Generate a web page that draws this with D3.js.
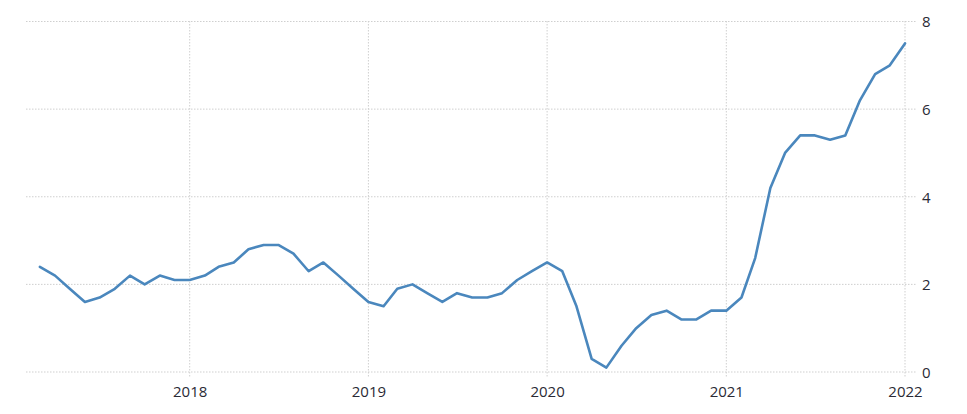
<!DOCTYPE html>
<html><head><meta charset="utf-8">
<script src="https://cdn.jsdelivr.net/npm/d3@7"></script>
<style>
html,body{margin:0;padding:0;background:#fff;}
svg text{font-family:"Open Sans","DejaVu Sans",sans-serif;}
</style></head>
<body><svg id="c" width="967" height="414"></svg>
<script>
const startMonth = "2017-03";
const values = [2.4,2.2,1.9,1.6,1.7,1.9,2.2,2.0,2.2,2.1,
  2.1,2.2,2.4,2.5,2.8,2.9,2.9,2.7,2.3,2.5,2.2,1.9,
  1.6,1.5,1.9,2.0,1.8,1.6,1.8,1.7,1.7,1.8,2.1,2.3,
  2.5,2.3,1.5,0.3,0.1,0.6,1.0,1.3,1.4,1.2,1.2,1.4,
  1.4,1.7,2.6,4.2,5.0,5.4,5.4,5.3,5.4,6.2,6.8,7.0,
  7.5];
const yTicks = [0,2,4,6,8];
const xTickYears = [2018,2019,2020,2021,2022];

const parse = d3.timeParse("%Y-%m");
const t0 = parse(startMonth);
const data = values.map((v,i)=>({date:d3.timeMonth.offset(t0,i), value:v}));

const svg = d3.select("#c");
const x = d3.scaleTime().domain([new Date(2017,0,1), new Date(2022,0,1)]).range([11, 905]);
const y = d3.scaleLinear().domain([0,8]).range([372, 21.5]);
const gx0 = 26, gx1 = 916;

const grid = svg.append("g");
grid.selectAll(".h").data(yTicks).join("line")
  .attr("x1",gx0).attr("x2",gx1)
  .attr("y1",d=>y(d)).attr("y2",d=>y(d))
  .attr("stroke","#cfcfcf").attr("stroke-width",1).attr("stroke-dasharray","1.5,1.5");
const xt = xTickYears.map(yr=>new Date(yr,0,1));
grid.selectAll(".v").data(xt).join("line")
  .attr("x1",d=>x(d)).attr("x2",d=>x(d))
  .attr("y1",21).attr("y2",378)
  .attr("stroke","#cfcfcf").attr("stroke-width",1).attr("stroke-dasharray","1.5,1.5");

const yAxis = d3.axisRight(y).tickValues(yTicks).tickSize(0).tickPadding(0).tickFormat(d3.format("d"));
svg.append("g").attr("transform","translate(922,0)").call(yAxis)
  .call(g=>g.select(".domain").remove())
  .call(g=>g.selectAll("text").attr("fill","#2a2a35").attr("font-size","15px").attr("dy","0.36em"));

const xAxis = d3.axisBottom(x).tickValues(xt).tickSize(0).tickPadding(0).tickFormat(d3.timeFormat("%Y"));
svg.append("g").attr("transform","translate(0,386)").call(xAxis)
  .call(g=>g.select(".domain").remove())
  .call(g=>g.selectAll("text").attr("fill","#2a2a35").attr("font-size","15px"));

const line = d3.line().x(d=>x(d.date)).y(d=>y(d.value));
svg.append("path").datum(data).attr("d",line)
  .attr("fill","none").attr("stroke","#4a87bd").attr("stroke-width",2.6)
  .attr("stroke-linejoin","round").attr("stroke-linecap","round");
</script></body></html>
